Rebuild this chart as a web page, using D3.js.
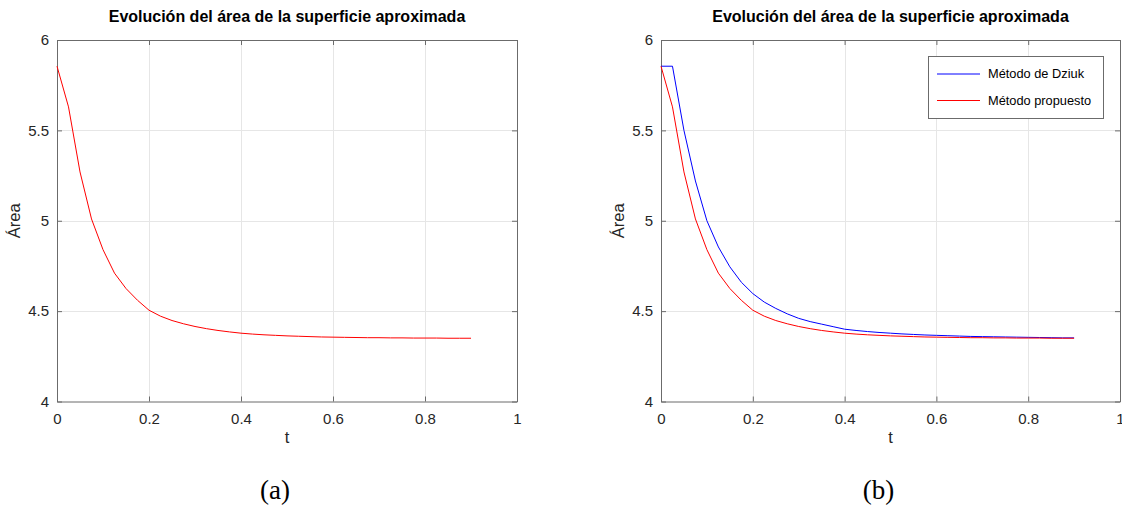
<!DOCTYPE html>
<html>
<head>
<meta charset="utf-8">
<script src="https://cdn.jsdelivr.net/npm/d3@7"></script>
<style>
  body { margin: 0; background: #fff; }
  svg { display: block; font-family: "Liberation Sans", Arial, sans-serif; }
  .tick text { fill: #262626; font-size: 15px; }
</style>
</head>
<body>
<div id="svg-container"></div>
<script>
////////////////////////////  Data  ////////////////////////////
const tValues = [
  0, 0.025, 0.05, 0.075, 0.1, 0.125, 0.15, 0.175, 0.2, 0.225, 0.25, 0.275,
  0.3, 0.325, 0.35, 0.375, 0.4, 0.425, 0.45, 0.475, 0.5, 0.525, 0.55, 0.575,
  0.6, 0.625, 0.65, 0.675, 0.7, 0.725, 0.75, 0.775, 0.8, 0.825, 0.85, 0.875, 0.9,
];
// método propuesto (red)
const areaPropuesto = [
  5.855, 5.63, 5.27, 5.01, 4.84, 4.71, 4.625, 4.56, 4.505, 4.472, 4.448, 4.43,
  4.415, 4.403, 4.393, 4.385, 4.378, 4.373, 4.369, 4.366, 4.363, 4.361, 4.359, 4.357,
  4.356, 4.355, 4.354, 4.353, 4.353, 4.352, 4.352, 4.351, 4.351, 4.351, 4.35, 4.35, 4.35,
];
// método de Dziuk (blue)
const areaDziuk = [
  5.855, 5.855, 5.5, 5.22, 5.0, 4.855, 4.745, 4.66, 4.597, 4.55, 4.515, 4.485,
  4.46, 4.442, 4.428, 4.414, 4.4, 4.393, 4.387, 4.382, 4.378, 4.374, 4.371, 4.368,
  4.366, 4.364, 4.362, 4.36, 4.359, 4.358, 4.357, 4.356, 4.355, 4.354, 4.353, 4.352, 4.352,
];
const xTicks = [0, 0.2, 0.4, 0.6, 0.8, 1];
const yTicks = [4, 4.5, 5, 5.5, 6];
const legendLabels = ["Método de Dziuk", "Método propuesto"];
const title = "Evolución del área de la superficie aproximada";

////////////////////////////  Init  ////////////////////////////
const width = 1122, height = 506;
const svg = d3.select("#svg-container").append("svg")
  .attr("width", width).attr("height", height);

const axisColor = "#6b6b6b";
const gridColor = "#e6e6e6";

const panels = [
  { left: 57, right: 517, caption: "(a)", series: [{ v: areaPropuesto, color: "#ff0000" }], legend: false },
  { left: 661, right: 1120, caption: "(b)", series: [{ v: areaDziuk, color: "#0000ff" }, { v: areaPropuesto, color: "#ff0000" }], legend: true },
];
const plotTop = 40, plotBottom = 401.5;

panels.forEach((p) => {
  const x = d3.scaleLinear().domain([0, 1]).range([p.left, p.right]);
  const y = d3.scaleLinear().domain([4, 6]).range([plotBottom, plotTop]);
  const g = svg.append("g");

  // grid
  g.selectAll(".gx").data(xTicks.slice(1, -1)).enter().append("line")
    .attr("x1", (d) => Math.round(x(d)) + 0.5).attr("x2", (d) => Math.round(x(d)) + 0.5)
    .attr("y1", plotTop).attr("y2", plotBottom)
    .attr("stroke", gridColor).attr("stroke-width", 1);
  g.selectAll(".gy").data(yTicks.slice(1, -1)).enter().append("line")
    .attr("y1", (d) => Math.round(y(d)) + 0.5).attr("y2", (d) => Math.round(y(d)) + 0.5)
    .attr("x1", p.left).attr("x2", p.right)
    .attr("stroke", gridColor).attr("stroke-width", 1);

  // axes (ticks pointing inward, MATLAB style)
  const xb = g.append("g").attr("transform", `translate(0,${plotBottom})`)
    .call(d3.axisBottom(x).tickValues(xTicks).tickSizeInner(-5).tickSizeOuter(0).tickPadding(12).tickFormat(d3.format("")));
  const xt = g.append("g").attr("transform", `translate(0,${plotTop})`)
    .call(d3.axisTop(x).tickValues(xTicks).tickSizeInner(-5).tickSizeOuter(0).tickFormat(""));
  const yl = g.append("g").attr("transform", `translate(${p.left},0)`)
    .call(d3.axisLeft(y).tickValues(yTicks).tickSizeInner(-5).tickSizeOuter(0).tickPadding(8).tickFormat(d3.format("")));
  const yr = g.append("g").attr("transform", `translate(${p.right},0)`)
    .call(d3.axisRight(y).tickValues(yTicks).tickSizeInner(-5).tickSizeOuter(0).tickFormat(""));
  [xb, xt, yl, yr].forEach((a) => {
    a.select(".domain").attr("stroke", axisColor);
    a.selectAll(".tick line").attr("stroke", axisColor);
  });
  yl.selectAll(".tick text").attr("dy", "0.32em");

  // lines
  const line = d3.line().x((d, i) => x(tValues[i])).y((d) => y(d));
  p.series.forEach((s) => {
    g.append("path").datum(s.v)
      .attr("d", line)
      .attr("fill", "none")
      .attr("stroke", s.color)
      .attr("stroke-width", 1);
  });

  // labels
  const cx = (p.left + p.right) / 2;
  g.append("text").attr("x", cx).attr("y", 22)
    .attr("text-anchor", "middle").attr("font-weight", "bold")
    .attr("font-size", 16).attr("fill", "#000").text(title);
  g.append("text").attr("x", cx).attr("y", 443)
    .attr("text-anchor", "middle").attr("font-size", 16.5).attr("fill", "#262626").text("t");
  g.append("text")
    .attr("transform", `translate(${p.left - 37},${(plotTop + plotBottom) / 2}) rotate(-90)`)
    .attr("text-anchor", "middle").attr("font-size", 16.5).attr("fill", "#262626").text("Área");
  g.append("text").attr("x", cx - 12).attr("y", 499)
    .attr("text-anchor", "middle").attr("font-size", 27)
    .attr("font-family", "'Liberation Serif', 'DejaVu Serif', serif")
    .attr("fill", "#000").text(p.caption);

  // legend
  if (p.legend) {
    const lg = g.append("g");
    lg.append("rect").attr("x", 928.5).attr("y", 56.5).attr("width", 175).attr("height", 62)
      .attr("fill", "#fff").attr("stroke", axisColor);
    p.series.forEach((s, i) => {
      const ly = 74 + i * 26.5;
      lg.append("line").attr("x1", 937).attr("x2", 980).attr("y1", ly).attr("y2", ly)
        .attr("stroke", s.color).attr("stroke-width", 1);
      lg.append("text").attr("x", 988).attr("y", ly).attr("dy", "0.35em")
        .attr("font-size", 12.8).attr("fill", "#000").text(legendLabels[i]);
    });
  }
});
</script>
</body>
</html>
